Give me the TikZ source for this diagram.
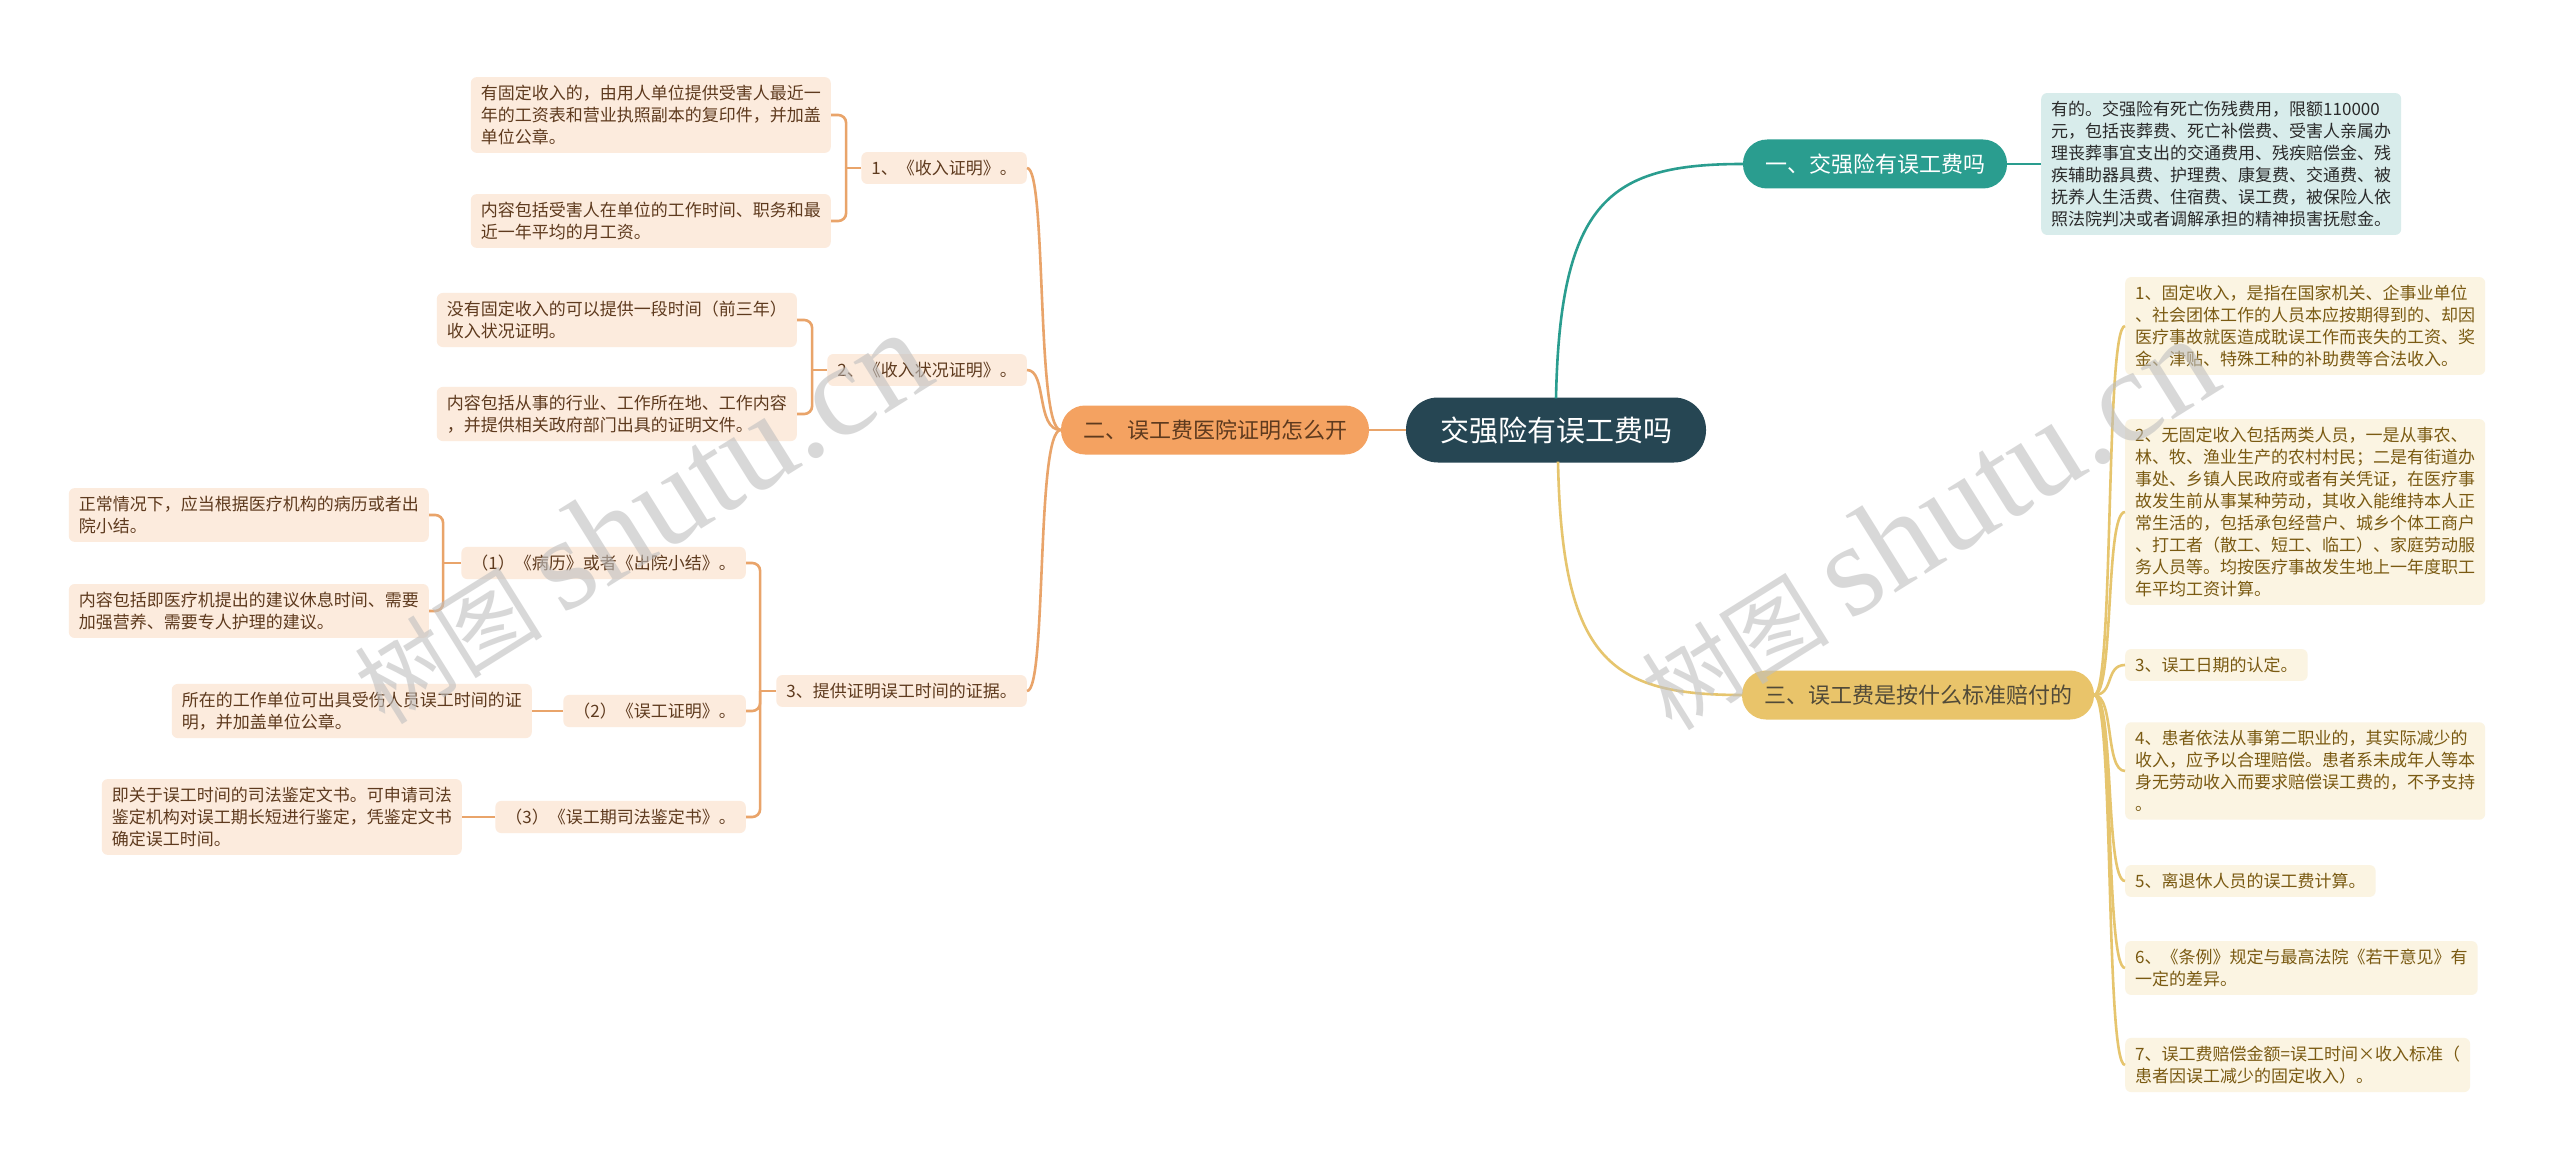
\documentclass[tikz,border=0pt]{standalone}
\usepackage{fontspec}
\setmainfont{Noto Sans CJK SC}
\newfontfamily\wmlatin{Liberation Serif}
\usetikzlibrary{calc}
\definecolor{rootc}{HTML}{264653}
\definecolor{tealc}{HTML}{2A9D8F}
\definecolor{goldc}{HTML}{E9C46A}
\definecolor{orangec}{HTML}{F4A261}
\definecolor{tfill}{HTML}{D8ECEB}
\definecolor{ttext}{HTML}{2B2B2B}
\definecolor{ofill}{HTML}{FCEBDD}
\definecolor{otext}{HTML}{5E3A1E}
\definecolor{oline}{HTML}{E9A46A}
\definecolor{gfill}{HTML}{FBF4E2}
\definecolor{gtext}{HTML}{7A5A12}
\definecolor{gline}{HTML}{E6C56E}
\tikzset{
  base/.style={rounded corners=6pt, inner xsep=10pt, inner ysep=8pt, align=left,
    font=\fontsize{17}{22}\selectfont},
  onode/.style={base, fill=ofill, text=otext},
  gnode/.style={base, fill=gfill, text=gtext},
  tnode/.style={base, fill=tfill, text=ttext},
  branch/.style={rounded corners=24pt, minimum height=49pt, inner xsep=22pt,
    font=\fontsize{22}{26}\selectfont},
  olink/.style={draw=oline, line width=2.6pt},
  glink/.style={draw=gline, line width=2.6pt},
  tlink/.style={draw=tealc, line width=2.6pt},
  wm/.style={text=gray!50, opacity=0.6, rotate=32},
}
\begin{document}
\begin{tikzpicture}[x=1pt,y=-1pt]
\useasboundingbox[fill=white] (0,0) rectangle (2560,1169);

% root and main branches
\node[fill=rootc, text=white, rounded corners=32pt, minimum width=300pt, minimum height=65pt,
  font=\fontsize{29}{34}\selectfont] (root) at (1556,430) {交强险有误工费吗};
\node[branch, fill=orangec, text=otext] (b2) at (1215,430) {二、误工费医院证明怎么开};
\node[branch, fill=tealc, text=white] (b1) at (1875,164) {一、交强险有误工费吗};
\node[branch, fill=goldc, text=ttext!80!goldc] (b3) at (1918,695) {三、误工费是按什么标准赔付的};

% branch 1 leaf
\node[tnode, anchor=west] (t1) at (2041,164) {有的。交强险有死亡伤残费用，限额110000\\元，包括丧葬费、死亡补偿费、受害人亲属办\\理丧葬事宜支出的交通费用、残疾赔偿金、残\\疾辅助器具费、护理费、康复费、交通费、被\\抚养人生活费、住宿费、误工费，被保险人依\\照法院判决或者调解承担的精神损害抚慰金。};

% branch 3 leaves
\node[gnode, anchor=west] (r1) at (2125,326) {1、固定收入，是指在国家机关、企事业单位\\、社会团体工作的人员本应按期得到的、却因\\医疗事故就医造成耽误工作而丧失的工资、奖\\金、津贴、特殊工种的补助费等合法收入。};
\node[gnode, anchor=west] (r2) at (2125,512) {2、无固定收入包括两类人员，一是从事农、\\林、牧、渔业生产的农村村民；二是有街道办\\事处、乡镇人民政府或者有关凭证，在医疗事\\故发生前从事某种劳动，其收入能维持本人正\\常生活的，包括承包经营户、城乡个体工商户\\、打工者（散工、短工、临工）、家庭劳动服\\务人员等。均按医疗事故发生地上一年度职工\\年平均工资计算。};
\node[gnode, anchor=west] (r3) at (2125,665) {3、误工日期的认定。};
\node[gnode, anchor=west] (r4) at (2125,771) {4、患者依法从事第二职业的，其实际减少的\\收入，应予以合理赔偿。患者系未成年人等本\\身无劳动收入而要求赔偿误工费的，不予支持\\。};
\node[gnode, anchor=west] (r5) at (2125,881) {5、离退休人员的误工费计算。};
\node[gnode, anchor=west] (r6) at (2125,968) {6、《条例》规定与最高法院《若干意见》有\\一定的差异。};
\node[gnode, anchor=west] (r7) at (2125,1065) {7、误工费赔偿金额=误工时间×收入标准（\\患者因误工减少的固定收入）。};

% branch 2 sub nodes
\node[onode, anchor=east] (l1) at (1027,168) {1、《收入证明》。};
\node[onode, anchor=east] (l2) at (1027,370) {2、《收入状况证明》。};
\node[onode, anchor=east] (l3) at (1027,691) {3、提供证明误工时间的证据。};

\node[onode, anchor=east] (l1a) at (831,115) {有固定收入的，由用人单位提供受害人最近一\\年的工资表和营业执照副本的复印件，并加盖\\单位公章。};
\node[onode, anchor=east] (l1b) at (831,221) {内容包括受害人在单位的工作时间、职务和最\\近一年平均的月工资。};
\node[onode, anchor=east] (l2a) at (797,320) {没有固定收入的可以提供一段时间（前三年）\\收入状况证明。};
\node[onode, anchor=east] (l2b) at (797,414) {内容包括从事的行业、工作所在地、工作内容\\，并提供相关政府部门出具的证明文件。};

\node[onode, anchor=east] (c1) at (746,563) {（1）《病历》或者《出院小结》。};
\node[onode, anchor=east] (c2) at (746,711) {（2）《误工证明》。};
\node[onode, anchor=east] (c3) at (746,817) {（3）《误工期司法鉴定书》。};

\node[onode, anchor=east] (c1a) at (429,515) {正常情况下，应当根据医疗机构的病历或者出\\院小结。};
\node[onode, anchor=east] (c1b) at (429,611) {内容包括即医疗机提出的建议休息时间、需要\\加强营养、需要专人护理的建议。};
\node[onode, anchor=east] (c2a) at (532,711) {所在的工作单位可出具受伤人员误工时间的证\\明，并加盖单位公章。};
\node[onode, anchor=east] (c3a) at (462,817) {即关于误工时间的司法鉴定文书。可申请司法\\鉴定机构对误工期长短进行鉴定，凭鉴定文书\\确定误工时间。};

% connectors: root
\draw[olink] (root.west) -- (b2.east);
\draw[tlink] ($(root.north)+(0,1)$) .. controls (1560,200) and (1610,164) .. (b1.west);
\draw[glink] ($(root.south)+(2,-1)$) .. controls (1562,660) and (1610,695) .. (b3.west);
\draw[tlink] (b1.east) -- (t1.west);

% branch 3
\foreach \n in {r1,r2,r3,r4,r5,r6,r7}
  \draw[glink] (b3.east) .. controls +(20,0) and +(-20,0) .. (\n.west);

% branch 2
\foreach \n in {l1,l2,l3}
  \draw[olink] (b2.west) .. controls +(-25,0) and +(20,0) .. (\n.east);

\draw[olink] (l1.west) -- ++(-15,0) coordinate (j1);
\draw[olink, rounded corners=8pt] (j1) |- (l1a.east);
\draw[olink, rounded corners=8pt] (j1) |- (l1b.east);
\draw[olink] (l2.west) -- ++(-15,0) coordinate (j2);
\draw[olink, rounded corners=8pt] (j2) |- (l2a.east);
\draw[olink, rounded corners=8pt] (j2) |- (l2b.east);
\draw[olink] (l3.west) -- ++(-16,0) coordinate (j3);
\draw[olink, rounded corners=8pt] (j3) |- (c1.east);
\draw[olink, rounded corners=8pt] (j3) |- (c2.east);
\draw[olink, rounded corners=8pt] (j3) |- (c3.east);
\draw[olink] (c1.west) -- ++(-18,0) coordinate (j4);
\draw[olink, rounded corners=8pt] (j4) |- (c1a.east);
\draw[olink, rounded corners=8pt] (j4) |- (c1b.east);
\draw[olink] (c2.west) -- (c2a.east);
\draw[olink] (c3.west) -- (c3a.east);

% watermarks
\node[wm, font=\fontsize{94}{98}\selectfont] (wm1) at (640,518) {树图 {\wmlatin\fontsize{132}{132}\selectfont shutu.cn}};
\node[wm, font=\fontsize{94}{98}\selectfont] (wm2) at (1927,524) {树图 {\wmlatin\fontsize{132}{132}\selectfont shutu.cn}};
\end{tikzpicture}
\end{document}
